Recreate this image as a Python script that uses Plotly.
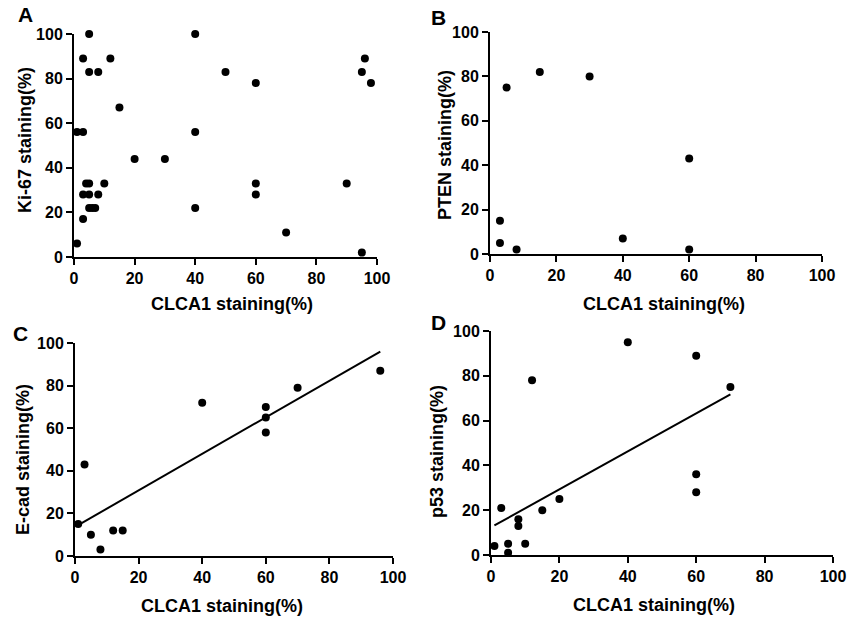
import plotly.graph_objects as go

# Panel A: CLCA1 vs Ki-67
a_x = [5, 3, 5, 8, 12, 15, 1, 3, 1, 3, 3, 4, 5, 5, 8, 10, 5, 6, 7, 20, 30, 40, 40, 40, 50, 60, 60, 60, 70, 90, 95, 96, 98, 95]
a_y = [100, 89, 83, 83, 89, 67, 56, 56, 6, 17, 28, 33, 33, 28, 28, 33, 22, 22, 22, 44, 44, 100, 56, 22, 83, 78, 33, 28, 11, 33, 83, 89, 78, 2]

# Panel B: CLCA1 vs PTEN
b_x = [3, 3, 5, 8, 15, 30, 40, 60, 60]
b_y = [15, 5, 75, 2, 82, 80, 7, 43, 2]

# Panel C: CLCA1 vs E-cad
c_x = [1, 3, 5, 8, 12, 15, 40, 60, 60, 60, 70, 96]
c_y = [15, 43, 10, 3, 12, 12, 72, 70, 65, 58, 79, 87]
c_fit_x = [1, 96]
c_fit_y = [14.5, 96]

# Panel D: CLCA1 vs p53
d_x = [1, 3, 5, 5, 8, 8, 10, 12, 15, 20, 40, 60, 60, 60, 70]
d_y = [4, 21, 5, 1, 16, 13, 5, 78, 20, 25, 95, 89, 36, 28, 75]
d_fit_x = [1, 70]
d_fit_y = [13.2, 71.7]

x_title = "CLCA1 staining(%)"
y_titles = ["Ki-67 staining(%)", "PTEN staining(%)", "E-cad staining(%)", "p53 staining(%)"]
panel_letters = ["A", "B", "C", "D"]
tick_vals = [0, 20, 40, 60, 80, 100]

W, H = 849, 618
FONT = "Liberation Sans, Arial, sans-serif"

# pixel boxes: (left, right, top, bottom)
boxes = [(74, 377, 34, 257), (490, 822, 32, 254), (75, 393, 343, 556), (491, 833, 331, 555)]

fig = go.Figure()
data = [(a_x, a_y, None, None), (b_x, b_y, None, None), (c_x, c_y, c_fit_x, c_fit_y), (d_x, d_y, d_fit_x, d_fit_y)]

for i, (xs, ys, fx, fy) in enumerate(data):
    n = "" if i == 0 else str(i + 1)
    fig.add_trace(go.Scatter(x=xs, y=ys, mode="markers", xaxis="x" + n, yaxis="y" + n,
                             marker=dict(color="black", size=8), cliponaxis=False, showlegend=False))
    if fx is not None:
        fig.add_trace(go.Scatter(x=fx, y=fy, mode="lines", xaxis="x" + n, yaxis="y" + n,
                                 line=dict(color="black", width=2), cliponaxis=False, showlegend=False))
    l, r, t, b = boxes[i]
    axcommon = dict(range=[0, 100], tickvals=tick_vals, showline=True, linecolor="black", linewidth=2,
                    ticks="outside", ticklen=6, tickwidth=2, tickcolor="black", showgrid=False,
                    zeroline=False, automargin=False,
                    tickfont=dict(family=FONT, size=16, color="black", weight="bold"),
                    fixedrange=True)
    fig.layout["xaxis" + n] = dict(domain=[l / W, r / W], anchor="y" + n, **axcommon)
    fig.layout["yaxis" + n] = dict(domain=[1 - b / H, 1 - t / H], anchor="x" + n, **axcommon)

annotations = []
xt_pos = [(232, 304), (664, 304), (222, 606), (654, 605)]
yt_pos = [(25, 140), (445, 145), (23, 460), (437, 452)]
letter_pos = [(25, 15), (438, 18), (20, 333), (438, 322)]
for i in range(4):
    xx, yy = xt_pos[i]
    annotations.append(dict(text="<b>" + x_title + "</b>", x=xx / W, y=1 - yy / H, xref="paper", yref="paper",
                            showarrow=False, xanchor="center", yanchor="middle",
                            font=dict(family=FONT, size=18, color="black")))
    xx, yy = yt_pos[i]
    annotations.append(dict(text="<b>" + y_titles[i] + "</b>", x=xx / W, y=1 - yy / H, xref="paper", yref="paper",
                            showarrow=False, xanchor="center", yanchor="middle", textangle=-90,
                            font=dict(family=FONT, size=18, color="black")))
    xx, yy = letter_pos[i]
    annotations.append(dict(text="<b>" + panel_letters[i] + "</b>", x=xx / W, y=1 - yy / H, xref="paper", yref="paper",
                            showarrow=False, xanchor="center", yanchor="middle",
                            font=dict(family=FONT, size=21, color="black")))

fig.update_layout(template="none", width=W, height=H, margin=dict(l=0, r=0, t=0, b=0, autoexpand=False),
                  paper_bgcolor="white", plot_bgcolor="white", annotations=annotations, showlegend=False,
                  hovermode=False)

fig.write_html("out.html", config={"displayModeBar": False},
               post_script="document.body.style.margin='0';document.body.style.overflow='hidden';")
